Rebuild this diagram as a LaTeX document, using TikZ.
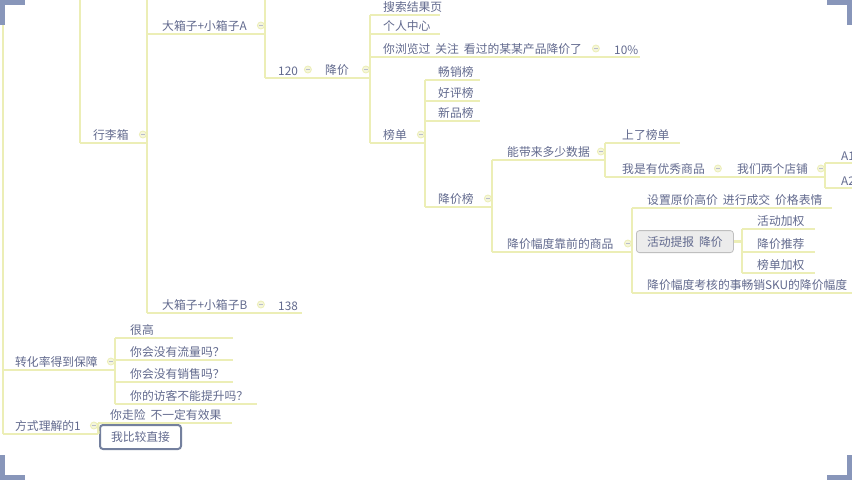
\documentclass[tikz,border=0pt]{standalone}
\usepackage{fontspec}
\newfontfamily\cjk{Noto Sans CJK SC}
\definecolor{lnc}{RGB}{236,238,182}
\definecolor{txc}{RGB}{98,106,142}
\definecolor{brk}{RGB}{136,150,186}
\tikzset{
  conn/.style={draw=lnc, line width=2.4pt},
  topic/.style={font=\cjk\fontsize{11.8}{13}\selectfont, text=txc, inner xsep=0pt, inner ysep=2.5pt, anchor=south west, align=left},
  collapser/.style={circle, draw=lnc, fill=lnc!50, line width=0.8pt, minimum size=7pt, inner sep=0pt,
    path picture={\draw[txc!45, line width=0.6pt] ([xshift=-2pt]path picture bounding box.center) -- ([xshift=2pt]path picture bounding box.center);}},
  grabox/.style={font=\cjk\fontsize{11.8}{13}\selectfont, text=txc, rounded corners=3pt, fill=gray!15, draw=gray!50, line width=0.8pt, inner sep=0pt, anchor=south west},
  bluebox/.style={font=\cjk\fontsize{11.8}{13}\selectfont, text=txc, rounded corners=3pt, fill=white, draw=brk!85!black, line width=2pt, inner sep=0pt, anchor=north west},
  brack/.style={fill=brk},
}
\newcommand\tp[6][13]{%
  \pgfmathsetmacro\tpw{#4-#3}%
  \node[topic, text width=\tpw pt] (#2) at (#3,#5) {\hspace*{#1pt}#6};%
  \draw[conn] (#2.south west) -- (#2.south east);}
\newcommand\cm[1]{\node[collapser] at ([xshift=-4.5pt,yshift=8.5pt]#1.south east) {};}
\newcommand\gp{\hspace{5pt}}
\begin{document}
\begin{tikzpicture}[x=1pt,y=-1pt]
\useasboundingbox (0,0) rectangle (852,480);
\fill[white] (0,0) rectangle (852,480);

% free ends at the top edge
\coordinate (t3) at (3,0);
\coordinate (t80) at (80,0);
\coordinate (t147) at (147,0);
\coordinate (t265) at (265,0);

% topics
\tp{xlx}{80}{147}{143}{行李箱}
\tp[15]{dxA}{147}{265}{34}{大箱子+小箱子A}
\tp{ntw}{265}{312}{78}{120}
\tp{jj}{312}{370}{78}{降价}
\tp{ssjg}{370}{440}{15}{搜索结果页}
\tp{grzx}{370}{440}{34}{个人中心}
\tp{llgz}{370}{600}{57}{你浏览过\gp 关注\gp 看过的某某产品降价了}
\tp[14]{pten}{600}{640}{57}{10\%}
\tp{bd}{370}{425}{143}{榜单}
\tp{cxb}{425}{480}{80}{畅销榜}
\tp{hpb}{425}{480}{101}{好评榜}
\tp{xpb}{425}{480}{121}{新品榜}
\tp{jjb}{425}{492}{207}{降价榜}
\tp[15]{ndl}{492}{605}{160}{能带来多少数据}
\tp[15]{jjfd}{492}{632}{252}{降价幅度靠前的商品}
\tp[17]{slbd}{605}{680}{143}{上了榜单}
\tp[17]{wsyx}{605}{722}{177}{我是有优秀商品}
\tp[15]{wmlg}{722}{825}{177}{我们两个店铺}
\tp[16]{aone}{825}{880}{163}{A1}
\tp[16]{atwo}{825}{880}{188}{A2}
\tp[15]{szyj}{632}{832}{208}{设置原价高价\gp 进行成交\gp 价格表情}
\node[grabox, minimum width=97pt, minimum height=22pt] (hdtb) at (636,253) {活动提报\gp 降价};
\tp[15]{hdjq}{742}{815}{229}{活动加权}
\tp[15]{jjtj}{742}{815}{252}{降价推荐}
\tp[15]{bdjq}{742}{815}{273}{榜单加权}
\tp[15]{jjkh}{632}{880}{293}{降价幅度考核的事畅销SKU的降价幅度}
\tp[15]{dxB}{147}{265}{313}{大箱子+小箱子B}
\tp{nte}{265}{302}{313}{138}
\tp[12]{zhl}{3}{115}{370}{转化率得到保障}
\tp[15]{hg}{115}{233}{338}{很高}
\tp[15]{llm}{115}{233}{360}{你会没有流量吗？}
\tp[15]{xsm}{115}{233}{382}{你会没有销售吗？}
\tp[15]{fkm}{115}{257}{404}{你的访客不能提升吗？}
\tp[12]{fslj}{3}{98}{434}{方式理解的1}
\tp[12]{yzx}{98}{232}{423}{你走险\gp 不一定有效果}
\node[bluebox, minimum width=81pt, minimum height=24pt] (wbjz) at (99,424) {我比较直接};

% connectors
\draw[conn] (t3) -- (fslj.south west);
\draw[conn] (t80) -- (xlx.south west);
\draw[conn] (t147) -- (dxB.south west);
\draw[conn] (t265) -- (ntw.south west);
\draw[conn] (ssjg.south west) -- (bd.south west);
\draw[conn] (cxb.south west) -- (jjb.south west);
\draw[conn] (ndl.south west) -- (jjfd.south west);
\draw[conn] (slbd.south west) -- (wsyx.south west);
\draw[conn] (aone.south west) -- (atwo.south west);
\draw[conn] (szyj.south west) -- (jjkh.south west);
\draw[conn] (hdjq.south west) -- (bdjq.south west);
\draw[conn] (hdtb.east) -- (hdtb.east -| jjtj.south west);
\draw[conn] (hg.south west) -- (fkm.south west);
\draw[conn] (yzx.south west) -- (fslj.south east);

% collapse markers
\cm{xlx}\cm{dxA}\cm{ntw}\cm{jj}\cm{llgz}\cm{bd}\cm{jjb}\cm{ndl}\cm{jjfd}
\cm{wsyx}\cm{wmlg}\cm{dxB}\cm{zhl}\cm{fslj}

% corner brackets
\fill[brack] (0,0) rectangle (25,5);
\fill[brack] (0,0) rectangle (5,25);
\fill[brack] (827,0) rectangle (852,5);
\fill[brack] (847,0) rectangle (852,25);
\fill[brack] (0,475) rectangle (25,480);
\fill[brack] (0,455) rectangle (5,480);
\fill[brack] (827,475) rectangle (852,480);
\fill[brack] (847,455) rectangle (852,480);
\end{tikzpicture}
\end{document}
